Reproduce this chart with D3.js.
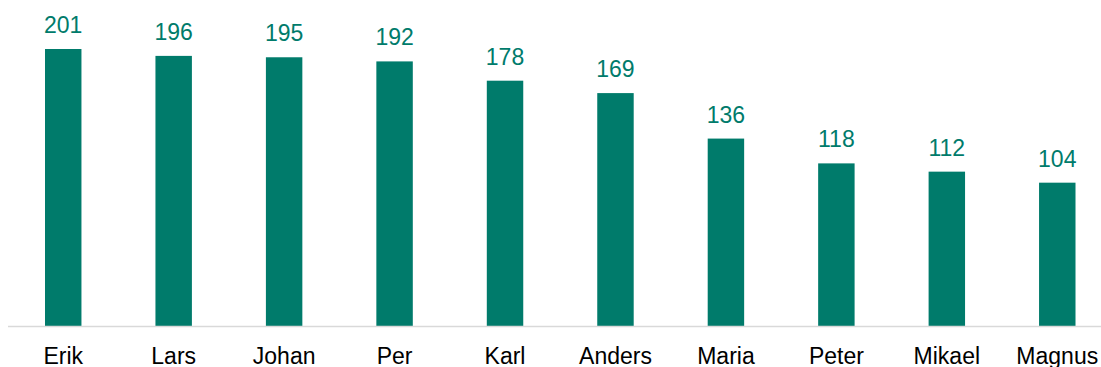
<!DOCTYPE html>
<html>
<head>
<meta charset="utf-8">
<script src="https://cdn.jsdelivr.net/npm/d3@7"></script>
<style>
  html, body { margin: 0; padding: 0; background: #fff; }
  svg { display: block; }
  text { font-family: "Liberation Sans", Arial, sans-serif; }
</style>
</head>
<body>
<svg id="chart" width="1101" height="367"></svg>
<script>
// Names and their counts
const names = ["Erik", "Lars", "Johan", "Per", "Karl", "Anders", "Maria", "Peter", "Mikael", "Magnus"];
const counts = [201, 196, 195, 192, 178, 169, 136, 118, 112, 104];

const barColor = "#007B6B";
const svg = d3.select("#chart");

const baseline = 326;
const x = d3.scaleBand()
  .domain(names)
  .range([8, 1112.5])
  .paddingInner(0.67)
  .paddingOuter(0.335);

const y = d3.scaleLinear()
  .domain([0, 201])
  .range([baseline, 49]);

const data = names.map((n, i) => ({ name: n, value: counts[i] }));

// bars
svg.append("g")
  .selectAll("rect")
  .data(data)
  .join("rect")
  .attr("x", d => x(d.name))
  .attr("y", d => y(d.value))
  .attr("width", x.bandwidth())
  .attr("height", d => baseline - y(d.value))
  .attr("fill", barColor);

// category axis
const axis = svg.append("g")
  .attr("transform", `translate(0,${baseline})`)
  .call(d3.axisBottom(x).tickSize(0).tickPadding(21.5));
axis.select(".domain").remove();
axis.append("line")
  .attr("x1", 8).attr("x2", 1101)
  .attr("y1", 0.5).attr("y2", 0.5)
  .attr("stroke", "#d9d9d9")
  .attr("stroke-width", 1.5);
axis.selectAll(".tick text")
  .attr("font-size", 23)
  .attr("font-family", "'Liberation Sans', Arial, sans-serif")
  .attr("fill", "#000");

// value labels
svg.append("g")
  .selectAll("text")
  .data(data)
  .join("text")
  .attr("x", d => x(d.name) + x.bandwidth() / 2)
  .attr("y", d => y(d.value) - 16)
  .attr("text-anchor", "middle")
  .attr("font-size", 23)
  .attr("fill", barColor)
  .text(d => d.value);
</script>
</body>
</html>
